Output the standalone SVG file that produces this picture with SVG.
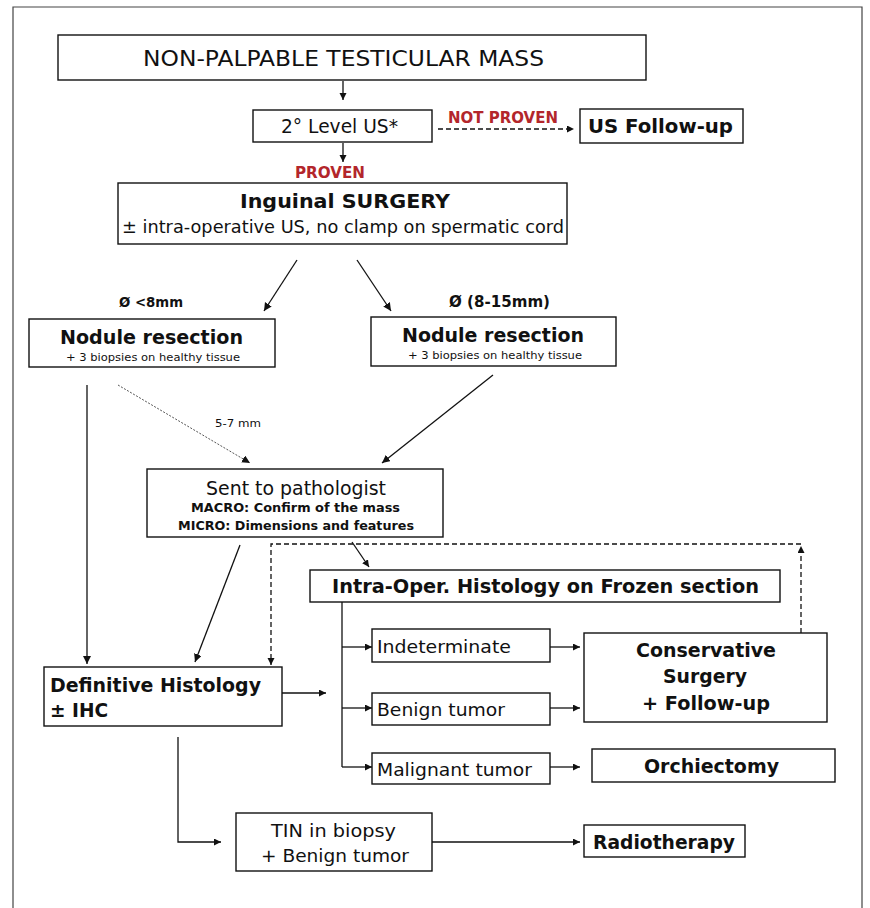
<svg xmlns="http://www.w3.org/2000/svg" width="870" height="908" viewBox="0 0 870 908">
<style>
  .box{fill:#fff;stroke:#111;stroke-width:1.4}
  .t{font-family:"DejaVu Sans","Liberation Sans",sans-serif;fill:#111}
  .b{font-weight:bold}
  .red{fill:#b3262b;font-weight:bold}
  .ln{fill:none;stroke:#111;stroke-width:1.3}
  .dash{fill:none;stroke:#111;stroke-width:1.3;stroke-dasharray:5,3}
  .dot{fill:none;stroke:#555;stroke-width:1;stroke-dasharray:2,1.5}
</style>
<defs>
  <marker id="ah" markerUnits="userSpaceOnUse" markerWidth="9" markerHeight="9" refX="8" refY="4" orient="auto">
    <path d="M0,0 L8,4 L0,8 z" fill="#111"/>
  </marker>
  <marker id="ahs" markerUnits="userSpaceOnUse" markerWidth="8" markerHeight="8" refX="7" refY="3.5" orient="auto">
    <path d="M0,0 L7,3.5 L0,7 z" fill="#111"/>
  </marker>
</defs>
<rect x="0" y="0" width="870" height="908" fill="#fff"/>
<path d="M13,908 V7 H862 V908" fill="none" stroke="#444" stroke-width="1.2"/>

<g id="connectors">
  <line class="ln" x1="343" y1="81" x2="343" y2="100" marker-end="url(#ahs)"/>
  <line class="dash" x1="438" y1="129" x2="574" y2="129" marker-end="url(#ahs)"/>
  <line class="ln" x1="343" y1="143" x2="343" y2="162" marker-end="url(#ahs)"/>
  <line class="ln" x1="297" y1="260" x2="264" y2="311" marker-end="url(#ah)"/>
  <line class="ln" x1="357" y1="260" x2="391" y2="311" marker-end="url(#ah)"/>
  <line class="ln" x1="87" y1="385" x2="87" y2="664" marker-end="url(#ah)"/>
  <line class="dot" x1="118" y1="385" x2="250" y2="463" marker-end="url(#ah)"/>
  <line class="ln" x1="493" y1="375" x2="382" y2="463" marker-end="url(#ah)"/>
  <line class="ln" x1="240" y1="545" x2="195" y2="662" marker-end="url(#ah)"/>
  <line class="ln" x1="352" y1="542" x2="369" y2="567" marker-end="url(#ahs)"/>
  <path class="dash" d="M801,633 V546" marker-end="url(#ahs)"/>
  <path class="dash" d="M801,544 H271 V665" marker-end="url(#ahs)"/>
  <line class="ln" x1="282" y1="693" x2="326" y2="693" marker-end="url(#ahs)"/>
  <path class="ln" d="M342,602 V767"/>
  <line class="ln" x1="342" y1="647" x2="372" y2="647" marker-end="url(#ahs)"/>
  <line class="ln" x1="342" y1="708" x2="372" y2="708" marker-end="url(#ahs)"/>
  <line class="ln" x1="342" y1="767" x2="372" y2="767" marker-end="url(#ahs)"/>
  <line class="ln" x1="550" y1="647" x2="580" y2="647" marker-end="url(#ahs)"/>
  <line class="ln" x1="550" y1="708" x2="580" y2="708" marker-end="url(#ahs)"/>
  <line class="ln" x1="550" y1="767" x2="580" y2="767" marker-end="url(#ahs)"/>
  <path class="ln" d="M178,737 V842 H221" marker-end="url(#ahs)"/>
  <line class="ln" x1="432" y1="842" x2="580" y2="842" marker-end="url(#ahs)"/>
</g>

<g id="labels">
  <text class="t red" x="448" y="123" font-size="15" textLength="110" lengthAdjust="spacingAndGlyphs">NOT PROVEN</text>
  <text class="t red" x="295" y="178" font-size="15" textLength="70" lengthAdjust="spacingAndGlyphs">PROVEN</text>
  <text class="t b" x="119" y="307" font-size="14" textLength="64" lengthAdjust="spacingAndGlyphs">Ø &lt;8mm</text>
  <text class="t b" x="449" y="307" font-size="15" textLength="101" lengthAdjust="spacingAndGlyphs">Ø (8-15mm)</text>
  <text class="t" x="215" y="427" font-size="11" textLength="46" lengthAdjust="spacingAndGlyphs">5-7 mm</text>
</g>

<g id="n-mass">
  <rect class="box" x="58" y="35" width="588" height="45"/>
  <text class="t" x="143" y="66" font-size="21" textLength="401" lengthAdjust="spacingAndGlyphs">NON-PALPABLE TESTICULAR MASS</text>
</g>
<g id="n-us">
  <rect class="box" x="253" y="110" width="179" height="32"/>
  <text class="t" x="281" y="133" font-size="19" textLength="117" lengthAdjust="spacingAndGlyphs">2° Level US*</text>
</g>
<g id="n-usfollow">
  <rect class="box" x="580" y="109" width="163" height="34"/>
  <text class="t b" x="588" y="133" font-size="20" textLength="145" lengthAdjust="spacingAndGlyphs">US Follow-up</text>
</g>
<g id="n-surgery">
  <rect class="box" x="118" y="183" width="449" height="61"/>
  <text class="t b" x="240" y="208" font-size="19" textLength="210" lengthAdjust="spacingAndGlyphs">Inguinal SURGERY</text>
  <text class="t" x="122" y="233" font-size="17" textLength="442" lengthAdjust="spacingAndGlyphs">± intra-operative US, no clamp on spermatic cord</text>
</g>
<g id="n-nodule-left">
  <rect class="box" x="29" y="319" width="246" height="48"/>
  <text class="t b" x="60" y="344" font-size="20" textLength="183" lengthAdjust="spacingAndGlyphs">Nodule resection</text>
  <text class="t" x="66" y="361" font-size="11" textLength="174" lengthAdjust="spacingAndGlyphs">+ 3 biopsies on healthy tissue</text>
</g>
<g id="n-nodule-right">
  <rect class="box" x="371" y="317" width="245" height="49"/>
  <text class="t b" x="402" y="342" font-size="20" textLength="182" lengthAdjust="spacingAndGlyphs">Nodule resection</text>
  <text class="t" x="408" y="359" font-size="11" textLength="174" lengthAdjust="spacingAndGlyphs">+ 3 biopsies on healthy tissue</text>
</g>
<g id="n-pathologist">
  <rect class="box" x="147" y="469" width="296" height="68"/>
  <text class="t" x="206" y="495" font-size="19" textLength="180" lengthAdjust="spacingAndGlyphs">Sent to pathologist</text>
  <text class="t b" x="191" y="512" font-size="12" textLength="209" lengthAdjust="spacingAndGlyphs">MACRO: Confirm of the mass</text>
  <text class="t b" x="178" y="530" font-size="12" textLength="236" lengthAdjust="spacingAndGlyphs">MICRO: Dimensions and features</text>
</g>
<g id="n-frozen">
  <rect class="box" x="310" y="570" width="470" height="32"/>
  <text class="t b" x="332" y="593" font-size="19" textLength="427" lengthAdjust="spacingAndGlyphs">Intra-Oper. Histology on Frozen section</text>
</g>
<g id="n-definitive">
  <rect class="box" x="44" y="667" width="238" height="59"/>
  <text class="t b" x="50" y="692" font-size="20" textLength="211" lengthAdjust="spacingAndGlyphs">Definitive Histology</text>
  <text class="t b" x="50" y="717" font-size="20" textLength="58" lengthAdjust="spacingAndGlyphs">± IHC</text>
</g>
<g id="n-indeterminate">
  <rect class="box" x="372" y="629" width="178" height="33"/>
  <text class="t" x="377" y="653" font-size="18" textLength="134" lengthAdjust="spacingAndGlyphs">Indeterminate</text>
</g>
<g id="n-benign">
  <rect class="box" x="372" y="693" width="178" height="32"/>
  <text class="t" x="377" y="716" font-size="18" textLength="128" lengthAdjust="spacingAndGlyphs">Benign tumor</text>
</g>
<g id="n-malignant">
  <rect class="box" x="372" y="753" width="178" height="31"/>
  <text class="t" x="377" y="776" font-size="18" textLength="155" lengthAdjust="spacingAndGlyphs">Malignant tumor</text>
</g>
<g id="n-conservative">
  <rect class="box" x="584" y="633" width="243" height="89"/>
  <text class="t b" x="636" y="657" font-size="20" textLength="140" lengthAdjust="spacingAndGlyphs">Conservative</text>
  <text class="t b" x="663" y="683" font-size="20" textLength="84" lengthAdjust="spacingAndGlyphs">Surgery</text>
  <text class="t b" x="642" y="710" font-size="20" textLength="128" lengthAdjust="spacingAndGlyphs">+ Follow-up</text>
</g>
<g id="n-orchiectomy">
  <rect class="box" x="592" y="749" width="243" height="33"/>
  <text class="t b" x="644" y="773" font-size="20" textLength="135" lengthAdjust="spacingAndGlyphs">Orchiectomy</text>
</g>
<g id="n-tin">
  <rect class="box" x="236" y="813" width="196" height="58"/>
  <text class="t" x="271" y="837" font-size="18" textLength="125" lengthAdjust="spacingAndGlyphs">TIN in biopsy</text>
  <text class="t" x="261" y="862" font-size="18" textLength="148" lengthAdjust="spacingAndGlyphs">+ Benign tumor</text>
</g>
<g id="n-radiotherapy">
  <rect class="box" x="584" y="825" width="161" height="32"/>
  <text class="t b" x="593" y="849" font-size="19" textLength="142" lengthAdjust="spacingAndGlyphs">Radiotherapy</text>
</g>
</svg>
